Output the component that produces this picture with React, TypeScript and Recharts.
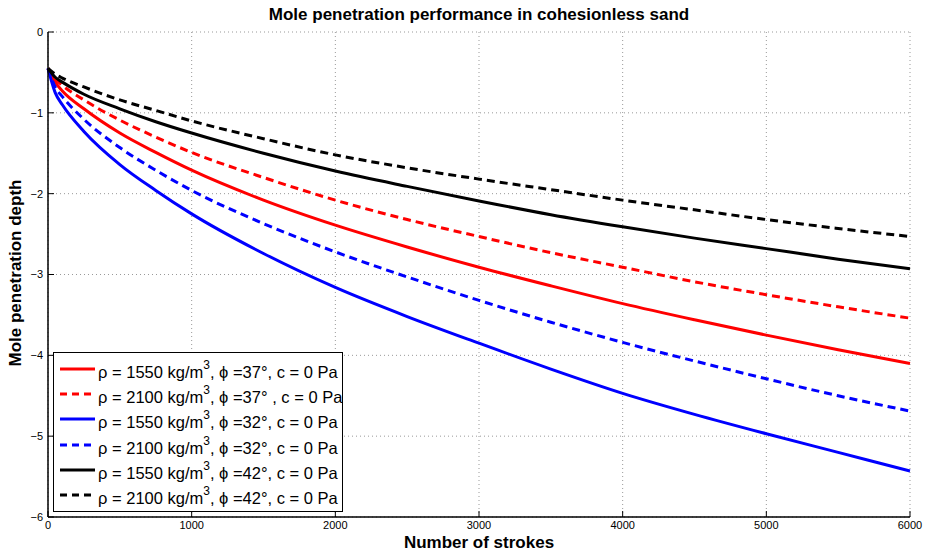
import { LineChart, Line, XAxis, YAxis, CartesianGrid } from 'recharts';

const strokes = [0, 50, 100, 250, 500, 750, 1000, 1500, 2000, 2500, 3000, 3500, 4000, 4500, 5000, 5500, 6000];

const red1550 = [-0.45, -0.62, -0.73, -0.95, -1.25, -1.49, -1.71, -2.08, -2.39, -2.66, -2.91, -3.14, -3.36, -3.56, -3.75, -3.93, -4.10];
const red2100 = [-0.45, -0.58, -0.66, -0.84, -1.09, -1.30, -1.49, -1.80, -2.08, -2.32, -2.53, -2.73, -2.91, -3.09, -3.25, -3.40, -3.54];
const blue1550 = [-0.45, -0.75, -0.90, -1.23, -1.64, -1.96, -2.25, -2.74, -3.16, -3.52, -3.85, -4.17, -4.47, -4.73, -4.97, -5.20, -5.43];
const blue2100 = [-0.45, -0.68, -0.80, -1.08, -1.43, -1.71, -1.96, -2.37, -2.72, -3.03, -3.32, -3.59, -3.84, -4.07, -4.29, -4.50, -4.69];
const black1550 = [-0.45, -0.56, -0.62, -0.77, -0.95, -1.11, -1.25, -1.50, -1.72, -1.91, -2.09, -2.26, -2.41, -2.55, -2.68, -2.81, -2.93];
const black2100 = [-0.45, -0.52, -0.57, -0.68, -0.84, -0.97, -1.10, -1.32, -1.52, -1.68, -1.82, -1.95, -2.08, -2.20, -2.32, -2.43, -2.53];

const xTicks = [0, 1000, 2000, 3000, 4000, 5000, 6000];
const yTicks = [-6, -5, -4, -3, -2, -1, 0];

const series = [
  { key: 'r1', values: red1550, color: '#ff0000', dashed: false, rho: '1550', phi: '37', gap: '' },
  { key: 'r2', values: red2100, color: '#ff0000', dashed: true, rho: '2100', phi: '37', gap: ' ' },
  { key: 'b1', values: blue1550, color: '#0000ff', dashed: false, rho: '1550', phi: '32', gap: '' },
  { key: 'b2', values: blue2100, color: '#0000ff', dashed: true, rho: '2100', phi: '32', gap: '' },
  { key: 'k1', values: black1550, color: '#000000', dashed: false, rho: '1550', phi: '42', gap: '' },
  { key: 'k2', values: black2100, color: '#000000', dashed: true, rho: '2100', phi: '42', gap: '' },
];

const data = strokes.map((n, i) => {
  const row: Record<string, number> = { n };
  series.forEach((s) => {
    row[s.key] = s.values[i];
  });
  return row;
});

const font = '"Liberation Sans", Arial, Helvetica, sans-serif';
const DASH = '8 5';

function fmtY(v: number) {
  return v < 0 ? '\u2212' + Math.abs(v) : String(v);
}

function LegendBox() {
  return (
    <div
      style={{
        position: 'absolute',
        left: 53,
        top: 352,
        width: 290,
        boxSizing: 'border-box',
        border: '1.5px solid #000',
        background: '#fff',
        padding: '3px 4px 3px 6px',
        fontFamily: font,
        fontSize: 16.5,
        color: '#000',
      }}
    >
      {series.map((s) => (
        <div key={s.key} style={{ display: 'flex', alignItems: 'center', height: 25.3, whiteSpace: 'nowrap' }}>
          <svg width={35} height={10} style={{ marginRight: 3, flex: 'none' }}>
            <line x1={0} y1={5} x2={35} y2={5} stroke={s.color} strokeWidth={3} strokeDasharray={s.dashed ? '7 5' : undefined} />
          </svg>
          <span style={{ marginTop: 7 }}>
            ρ = {s.rho} kg/m<sup style={{ fontSize: 12, verticalAlign: 9, lineHeight: 0 }}>3</sup>, ϕ ={s.phi}°{s.gap}, c = 0 Pa
          </span>
        </div>
      ))}
    </div>
  );
}

export default function App() {
  return (
    <div style={{ position: 'absolute', left: 0, top: 0, width: 929, height: 554, background: '#fff', fontFamily: font }}>
      <LineChart width={929} height={554} data={data} margin={{ top: 32, right: 19, left: 0, bottom: 0 }}>
        <CartesianGrid stroke="#999" strokeDasharray="1 3" horizontal vertical />
        <XAxis
          dataKey="n"
          type="number"
          domain={[0, 6000]}
          ticks={xTicks}
          height={37}
          tickSize={-6}
          tickMargin={10}
          stroke="#000"
          tick={{ fill: '#000', fontSize: 11, fontFamily: font }}
          axisLine={{ stroke: '#000', strokeWidth: 1.5 }}
          tickLine={{ stroke: '#000' }}
        />
        <XAxis
          xAxisId="top"
          orientation="top"
          dataKey="n"
          type="number"
          domain={[0, 6000]}
          ticks={xTicks}
          height={0}
          tickSize={-6}
          tick={false}
          axisLine={{ stroke: '#000', strokeWidth: 1.5 }}
          tickLine={{ stroke: '#000' }}
        />
        <YAxis
          type="number"
          domain={[-6, 0]}
          ticks={yTicks}
          width={48}
          tickSize={-6}
          tickMargin={11}
          tickFormatter={fmtY}
          tick={{ fill: '#000', fontSize: 11, fontFamily: font }}
          axisLine={{ stroke: '#000', strokeWidth: 1.5 }}
          tickLine={{ stroke: '#000' }}
        />
        <YAxis
          yAxisId="right"
          orientation="right"
          type="number"
          domain={[-6, 0]}
          ticks={yTicks}
          width={0}
          tickSize={-6}
          tick={false}
          axisLine={{ stroke: '#000', strokeWidth: 1.5 }}
          tickLine={{ stroke: '#000' }}
        />
        {series.map((s) => (
          <Line
            key={s.key}
            dataKey={s.key}
            type="monotone"
            stroke={s.color}
            strokeWidth={3}
            strokeDasharray={s.dashed ? DASH : undefined}
            dot={false}
            activeDot={false}
            isAnimationActive={false}
          />
        ))}
      </LineChart>
      <div
        style={{
          position: 'absolute',
          left: 48,
          width: 862,
          top: 5,
          lineHeight: '20px',
          textAlign: 'center',
          fontWeight: 'bold',
          fontSize: 17,
        }}
      >
        Mole penetration performance in cohesionless sand
      </div>
      <div
        style={{
          position: 'absolute',
          left: 48,
          width: 862,
          top: 533,
          lineHeight: '20px',
          textAlign: 'center',
          fontWeight: 'bold',
          fontSize: 17,
        }}
      >
        Number of strokes
      </div>
      <div
        style={{
          position: 'absolute',
          left: 16,
          top: 273,
          lineHeight: '20px',
          transform: 'translate(-50%, -50%) rotate(-90deg)',
          whiteSpace: 'nowrap',
          fontWeight: 'bold',
          fontSize: 17,
        }}
      >
        Mole penetration depth
      </div>
      <LegendBox />
    </div>
  );
}
